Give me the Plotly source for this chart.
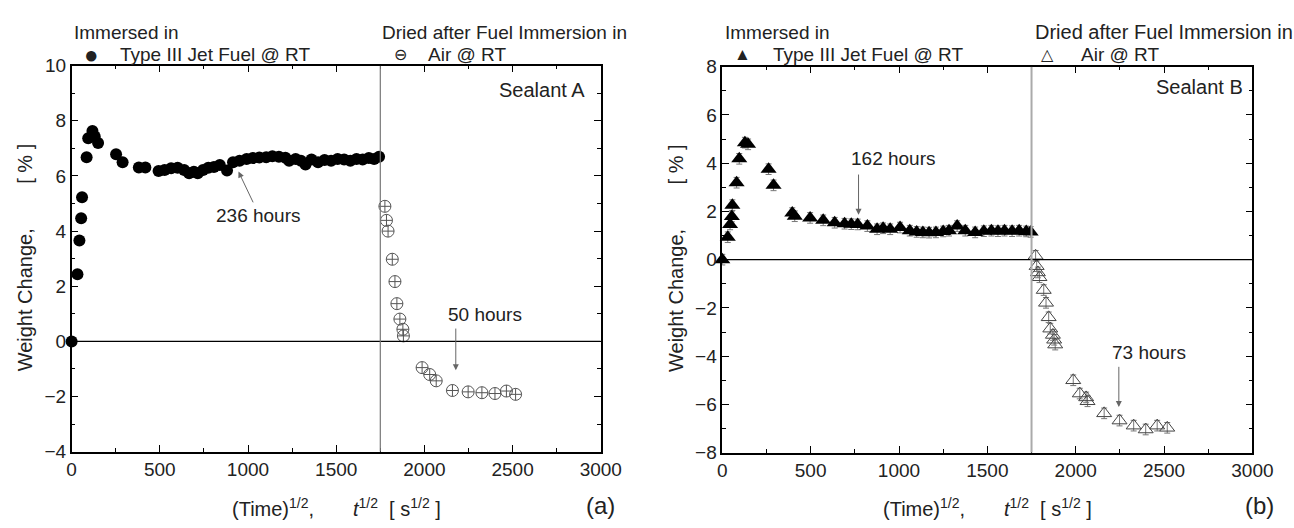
import plotly.graph_objects as go

W, H = 1294, 528

# ---------------- data ----------------
fuelA_x = [0, 33, 44, 54, 59, 85, 94, 118, 131, 150, 252, 289, 381, 418, 493, 527, 564, 601,
           638, 666, 693, 715, 745, 775, 807, 840, 881, 915, 952, 992, 1027, 1064, 1103, 1138,
           1175, 1212, 1233, 1270, 1300, 1326, 1360, 1397, 1434, 1471, 1508, 1545, 1580,
           1615, 1650, 1685, 1715, 1743]
fuelA_y = [0, 2.44, 3.66, 4.47, 5.23, 6.68, 7.37, 7.63, 7.43, 7.2, 6.79, 6.5, 6.31, 6.31, 6.18,
           6.22, 6.28, 6.3, 6.22, 6.1, 6.15, 6.1, 6.22, 6.3, 6.33, 6.4, 6.2, 6.5, 6.55, 6.62,
           6.65, 6.67, 6.68, 6.72, 6.7, 6.66, 6.55, 6.62, 6.55, 6.42, 6.6, 6.5, 6.58, 6.55,
           6.62, 6.6, 6.55, 6.62, 6.6, 6.65, 6.62, 6.7]

airA_x = [1776, 1785, 1794, 1818, 1833, 1844, 1861, 1878, 1881, 1987, 2030, 2067, 2159, 2248,
          2326, 2400, 2465, 2517]
airA_y = [4.9, 4.39, 4.0, 2.98, 2.17, 1.37, 0.81, 0.44, 0.2, -0.95, -1.2, -1.43, -1.78, -1.83,
          -1.86, -1.89, -1.8, -1.92]

fuelB_x = [0, 31, 44, 54, 57, 81, 96, 128, 146, 262, 290, 396, 410, 497, 571, 636, 692, 730,
           766, 821, 876, 910, 950, 1006, 1061, 1100, 1135, 1170, 1209, 1250, 1283, 1329, 1375,
           1431, 1480, 1523, 1560, 1597, 1640, 1680, 1720, 1745]
fuelB_y = [0, 0.93, 1.46, 1.79, 2.26, 3.19, 4.18, 4.85, 4.78, 3.75, 3.08, 1.93, 1.8, 1.73, 1.63,
           1.53, 1.49, 1.47, 1.46, 1.39, 1.26, 1.3, 1.26, 1.33, 1.2, 1.15, 1.13, 1.12, 1.13,
           1.17, 1.2, 1.39, 1.2, 1.13, 1.18, 1.2, 1.18, 1.2, 1.18, 1.2, 1.17, 1.15]

airB_x = [1773, 1779, 1786, 1795, 1819, 1832, 1847, 1856, 1871, 1878, 1884, 1986, 2023, 2059,
          2067, 2161, 2248, 2328, 2396, 2461, 2518]
airB_y = [0.16, -0.27, -0.53, -0.73, -1.26, -1.79, -2.39, -2.86, -3.12, -3.32, -3.52, -5.0,
          -5.55, -5.71, -5.87, -6.37, -6.67, -6.88, -7.04, -6.88, -6.97]

x_ticks = [0, 500, 1000, 1500, 2000, 2500, 3000]
yA_ticks = [-4, -2, 0, 2, 4, 6, 8, 10]
yB_ticks = [-8, -6, -4, -2, 0, 2, 4, 6, 8]

# ---------------- figure ----------------
TXT = "#222222"
FONT = "Liberation Sans, Arial, sans-serif"
FS = 19

def fx(px):
    return px / W

def fy(py):
    return 1 - py / H

fig = go.Figure()

errB = dict(type="constant", value=0.22, thickness=1, width=3, color="#777777")

fig.add_trace(go.Scatter(x=fuelA_x, y=fuelA_y, mode="markers", xaxis="x", yaxis="y",
                         marker=dict(symbol="circle", size=12, color="black"),
                         cliponaxis=False, showlegend=False))
fig.add_trace(go.Scatter(x=airA_x, y=airA_y, mode="markers", xaxis="x", yaxis="y",
                         marker=dict(symbol="circle-cross-open", size=12, color="#555555",
                                     line=dict(width=1)),
                         cliponaxis=False, showlegend=False))
fig.add_trace(go.Scatter(x=fuelB_x, y=fuelB_y, mode="markers", xaxis="x2", yaxis="y2",
                         marker=dict(symbol="triangle-up", size=14, color="black"),
                         error_y=errB, cliponaxis=False, showlegend=False))
fig.add_trace(go.Scatter(x=airB_x, y=airB_y, mode="markers", xaxis="x2", yaxis="y2",
                         marker=dict(symbol="triangle-up-open", size=13, color="#444444",
                                     line=dict(width=1)),
                         error_y=errB, cliponaxis=False, showlegend=False))

axis_common = dict(showline=True, linecolor="black", linewidth=1.5, mirror="ticks",
                   ticks="inside", ticklen=7, tickwidth=1.2, tickcolor="black",
                   showgrid=False, zeroline=False,
                   tickfont=dict(family=FONT, size=FS, color=TXT))

fig.update_layout(
    width=W, height=H,
    margin=dict(l=0, r=0, t=0, b=0),
    paper_bgcolor="white", plot_bgcolor="white",
    xaxis=dict(domain=[fx(68), fx(608)], range=[0, 3000], tickvals=x_ticks,
               minor=dict(ticks="inside", dtick=250, ticklen=4, tickcolor="black"),
               anchor="y", **axis_common),
    yaxis=dict(domain=[fy(460), fy(58)], range=[-4, 10], tickvals=yA_ticks,
               minor=dict(ticks="inside", dtick=1, ticklen=4, tickcolor="black"),
               anchor="x", **axis_common),
    xaxis2=dict(domain=[fx(732), fx(1273)], range=[0, 3000], tickvals=x_ticks,
                minor=dict(ticks="inside", dtick=250, ticklen=4, tickcolor="black"),
                anchor="y2", **axis_common),
    yaxis2=dict(domain=[fy(461), fy(59)], range=[-8, 8], tickvals=yB_ticks,
                minor=dict(ticks="inside", dtick=1, ticklen=4, tickcolor="black"),
                anchor="x2", **axis_common),
)

shapes = [
    dict(type="line", xref="x", yref="y", x0=0, x1=3000, y0=0, y1=0,
         line=dict(color="black", width=1.3)),
    dict(type="line", xref="x", yref="y", x0=1750, x1=1750, y0=-4, y1=10,
         line=dict(color="#777777", width=1.2)),
    dict(type="line", xref="x2", yref="y2", x0=0, x1=3000, y0=0, y1=0,
         line=dict(color="black", width=1.3)),
    dict(type="line", xref="x2", yref="y2", x0=1750, x1=1750, y0=-8, y1=8,
         line=dict(color="#aaaaaa", width=2)),
]
fig.update_layout(shapes=shapes)

ann = []

def txt(x, y, s, xref="paper", yref="paper", size=FS, xanchor="center", yanchor="middle",
        angle=0):
    ann.append(dict(x=x, y=y, xref=xref, yref=yref, text=s, showarrow=False,
                    xanchor=xanchor, yanchor=yanchor, textangle=angle,
                    font=dict(family=FONT, size=size, color=TXT)))

def arrow(xt, yt, xa, ya, xref, yref):
    ann.append(dict(x=xt, y=yt, ax=xa, ay=ya, xref=xref, yref=yref, axref=xref, ayref=yref,
                    text="", showarrow=True, arrowhead=2, arrowsize=1.2, arrowwidth=1,
                    arrowcolor="#666666"))

# legend headers - panel A
txt(fx(68), fy(23), "Immersed in", xanchor="left")
txt(fx(88), fy(46), "●", size=24)
txt(fx(115), fy(46), "Type III Jet Fuel @ RT", xanchor="left")
txt(fx(383), fy(23), "Dried after Fuel Immersion in", xanchor="left")
txt(fx(404), fy(46), "⊖", size=16)
txt(fx(430), fy(46), "Air @ RT", xanchor="left")

# legend headers - panel B
txt(fx(733), fy(23), "Immersed in", xanchor="left")
txt(fx(753), fy(46), "▲", size=17)
txt(fx(782), fy(46), "Type III Jet Fuel @ RT", xanchor="left")
txt(fx(1049), fy(23), "Dried after Fuel Immersion in", xanchor="left", size=20)
txt(fx(1064), fy(46), "△", size=16)
txt(fx(1096), fy(46), "Air @ RT", xanchor="left")

# y titles
ytitle = "Weight Change," + "\u00a0" * 8 + "[ % ]"
txt(fx(20), fy(258), ytitle, angle=-90, size=20)
txt(fx(685), fy(258), ytitle, angle=-90, size=20)

# x titles
xtitle = ("(Time)<sup>1/2</sup>," + "\u00a0" * 7 + "<i>t</i><sup>1/2</sup>" + "\u00a0" * 2 +
          "[ s<sup>1/2</sup> ]")
txt(fx(338), fy(518), xtitle, size=20)
txt(fx(1003), fy(518), xtitle, size=20)
txt(fx(608), fy(516), "(a)", size=24)
txt(fx(1280), fy(516), "(b)", size=24)

# in-plot labels
txt(2922, 9.13, "Sealant A", xref="x", yref="y", xanchor="right", size=20)
txt(2956, 7.17, "Sealant B", xref="x2", yref="y2", xanchor="right", size=20)

txt(1057, 4.56, "236 hours", xref="x", yref="y")
arrow(946, 6.16, 1033, 4.99, "x", "y")
txt(2344, 0.98, "50 hours", xref="x", yref="y")
arrow(2178, -1.05, 2178, 0.52, "x", "y")

txt(969, 4.18, "162 hours", xref="x2", yref="y2")
arrow(771, 1.86, 771, 3.59, "x2", "y2")
txt(2413, -3.85, "73 hours", xref="x2", yref="y2")
arrow(2244, -6.11, 2244, -4.38, "x2", "y2")

fig.update_layout(annotations=ann)

fig.write_html("out.html")
